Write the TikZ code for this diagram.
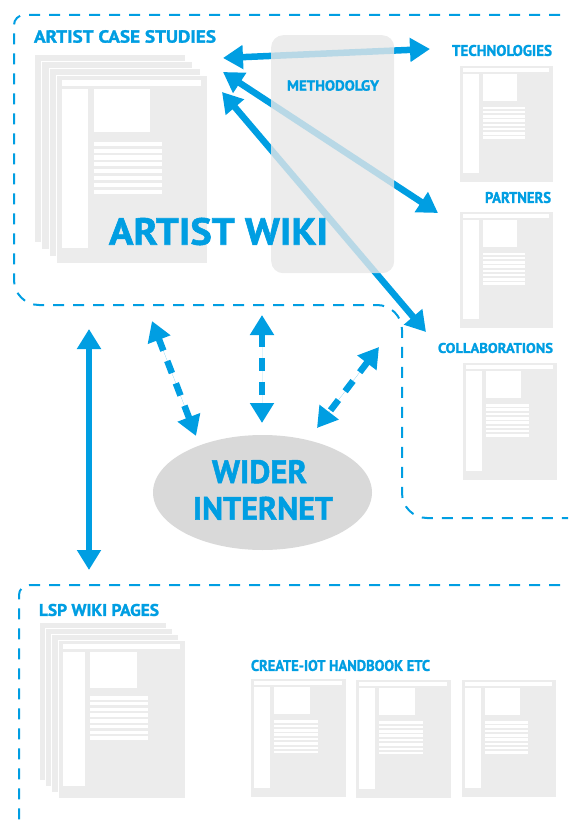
\documentclass[tikz,border=0pt]{standalone}
\usepackage{fontspec}
\setmainfont{PT Sans}[BoldFeatures={FakeBold=1.5}]
\usetikzlibrary{arrows.meta,shapes.geometric}
\definecolor{wblue}{RGB}{0,158,226}
\definecolor{pagegray}{RGB}{236,236,236}
\definecolor{netgray}{RGB}{217,217,217}
\definecolor{boxgray}{RGB}{231,231,231}
\tikzset{
  region/.style={draw=wblue, line width=2pt, dash pattern=on 11pt off 9pt},
  pagebg/.style={rectangle, anchor=north west, fill=pagegray, draw=white, line width=0.8pt, inner sep=0pt},
  flow/.style={draw=wblue, fill=wblue, line width=6.5pt},
  dflow/.style={flow, dash pattern=on 13pt off 11pt},
  lbl/.style={inner sep=0pt, text=wblue, font=\bfseries},
}
\newcommand\captxt[3]{\resizebox{#1pt}{#2pt}{#3}}
\newcommand\pageicon[4]{%
  \node[pagebg, minimum width=#4pt, minimum height={1.242*#4pt}] (#1) at (#2,#3) {};
  \begin{scope}[shift={(#2,#3)}, scale={#4/95}]
    \fill[white] (4,3) rectangle (91,7);
    \fill[white] (4,9) rectangle (20,109);
    \fill[white] (24,9) rectangle (59,36);
    \foreach \k in {0,...,7} \fill[white] (24,42+\k*4.3) rectangle (67,44.6+\k*4.3);
  \end{scope}}
\begin{document}
\begin{tikzpicture}[x=1pt,y=-1pt,>={Triangle[length=20pt,width=23pt]}]
\useasboundingbox (0,0) rectangle (568,821);
\clip (0,0) rectangle (568,821);

% dashed regions
\draw[region] (580,15) -- (24,15) .. controls (18.5,15) and (14,19.5) .. (14,25) -- (14,280)
  .. controls (14,293.8) and (25.2,305) .. (39,305) -- (377,305)
  .. controls (390.8,305) and (402,316.2) .. (402,330) -- (402,493)
  .. controls (402,506.8) and (413.2,518) .. (427,518) -- (580,518);
\draw[region] (580,585) -- (29,585) .. controls (23.5,585) and (19,589.5) .. (19,595) -- (19,830);

% artist case studies stack
\node[pagebg, minimum width=151pt, minimum height=188pt] (cs1) at (34,54) {};
\node[pagebg, minimum width=151pt, minimum height=188pt] (cs2) at (41,61) {};
\node[pagebg, minimum width=151pt, minimum height=188pt] (cs3) at (49,68) {};
\pageicon{cs4}{56}{75}{151}

% LSP stack
\node[pagebg, minimum width=127pt, minimum height=158pt] (lsp1) at (39,622) {};
\node[pagebg, minimum width=127pt, minimum height=158pt] (lsp2) at (45,628) {};
\node[pagebg, minimum width=127pt, minimum height=158pt] (lsp3) at (51,634) {};
\pageicon{lsp4}{58}{640}{127}

% right pages
\pageicon{techpage}{459}{65}{94}
\pageicon{partpage}{459}{211}{94}
\pageicon{collpage}{462}{362}{95}

% handbook pages
\pageicon{hb1}{250}{678}{96}
\pageicon{hb2}{355}{679}{96}
\pageicon{hb3}{461}{679}{95}

% arrow end points
\coordinate (a1l) at (223,58);  \coordinate (a1r) at (430,49);
\coordinate (a2l) at (223,72);  \coordinate (a2r) at (438,213);
\coordinate (a3l) at (222,92);  \coordinate (a3r) at (426,332);
\coordinate (vt) at (89,329);   \coordinate (vb) at (89,570);
\coordinate (d1a) at (152,321); \coordinate (d1b) at (196,436);
\coordinate (d2a) at (262,315); \coordinate (d2b) at (262,423);
\coordinate (d3a) at (379,347); \coordinate (d3b) at (317,428);

\draw[flow,<->] (a1l) -- (a1r);
\draw[flow,<->] (a2l) -- (a2r);
\draw[flow,<->] (a3l) -- (a3r);
\draw[flow,<->] (vt) -- (vb);
\draw[dflow,<->] (d1a) -- (d1b);
\draw[dflow,<->] (d2a) -- (d2b);
\draw[dflow,<->] (d3a) -- (d3b);

% wider internet
\node[ellipse, fill=netgray, minimum width=219pt, minimum height=115pt, inner sep=0pt] (net) at (262.5,492.5) {};

% methodology box
\node[rectangle, anchor=north west, rounded corners=12pt, fill=boxgray, fill opacity=0.8,
  minimum width=123pt, minimum height=238pt, inner sep=0pt] (method) at (271,35) {};

% labels
\node[lbl] (tcs) at (125,36.5) {\captxt{182}{12.5}{ARTIST CASE STUDIES}};
\node[lbl] (tmeth) at (333,85.5) {\captxt{92}{10.5}{METHODOLGY}};
\node[lbl] (ttech) at (502,50.5) {\captxt{100}{11}{TECHNOLOGIES}};
\node[lbl] (tpart) at (518,197.5) {\captxt{66}{11}{PARTNERS}};
\node[lbl] (tcoll) at (495.5,348) {\captxt{115}{10}{COLLABORATIONS}};
\node[lbl] (twiki) at (218.5,231.5) {\captxt{219}{27}{ARTIST WIKI}};
\node[lbl] (twider) at (259.5,471.7) {\captxt{95}{23}{WIDER}};
\node[lbl] (tinternet) at (263,508.3) {\captxt{140}{23}{INTERNET}};
\node[lbl] (tlsp) at (99,610) {\captxt{120}{12}{LSP WIKI PAGES}};
\node[lbl] (thb) at (340.5,665.5) {\captxt{179}{11}{CREATE-IOT HANDBOOK ETC}};
\end{tikzpicture}
\end{document}
